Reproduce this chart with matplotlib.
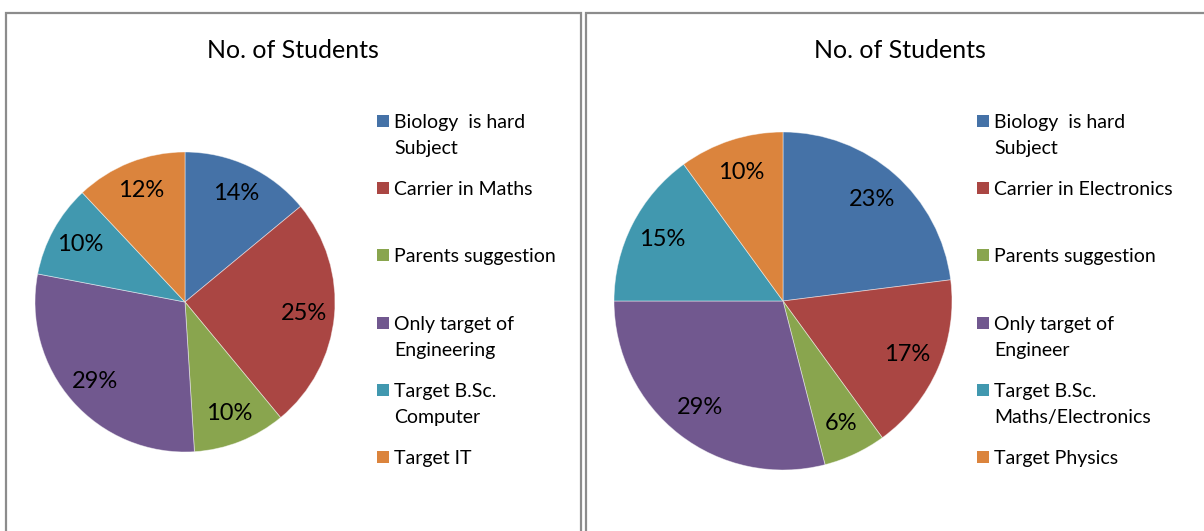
import matplotlib
matplotlib.use("Agg")
import matplotlib.pyplot as plt
from matplotlib.patches import Rectangle

plt.rcParams['font.family'] = ['Lato', 'DejaVu Sans']

# data
title = "No. of Students"
labels_left = ["Biology  is hard\nSubject", "Carrier in Maths", "Parents suggestion",
               "Only target of\nEngineering", "Target B.Sc.\nComputer", "Target IT"]
values_left = [14, 25, 10, 29, 10, 12]
labels_right = ["Biology  is hard\nSubject", "Carrier in Electronics", "Parents suggestion",
                "Only target of\nEngineer", "Target B.Sc.\nMaths/Electronics", "Target Physics"]
values_right = [23, 17, 6, 29, 15, 10]
colors = ["#4572A7", "#AA4643", "#89A54E", "#71588F", "#4198AF", "#DB843D"]

W, H = 1204, 531
fig = plt.figure(figsize=(W / 100, H / 100), dpi=100)


def px_axes(x, y, w, h):
    # x, y = top-left in pixels
    return fig.add_axes([x / W, 1 - (y + h) / H, w / W, h / H])


def panel(x0, x1, cx, cy, r, values, labels, leg_x, title_x):
    # border of the chart area
    fig.patches.append(Rectangle((x0 / W, -0.05), (x1 - x0) / W, 1 - 13 / H + 0.05,
                                 transform=fig.transFigure, fill=False,
                                 edgecolor="#8c8c8c", linewidth=1.6))
    fig.text(title_x / W, 1 - 50 / H, title, ha="center", va="center", fontsize=18)

    ax = px_axes(cx - r, cy - r, 2 * r, 2 * r)
    ax.pie(values, colors=colors, startangle=90, counterclock=False,
           autopct=lambda p: "%d%%" % round(p), pctdistance=0.8,
           wedgeprops=dict(linewidth=0.6, edgecolor="#ffffff80"),
           textprops=dict(fontsize=17, color="black"))
    ax.set_xlim(-1, 1)
    ax.set_ylim(-1, 1)
    ax.set_aspect("equal")
    ax.axis("off")

    # legend, one slot per entry
    for i, (lab, c) in enumerate(zip(labels, colors)):
        y = 121 + i * 67.2
        fig.patches.append(Rectangle(((leg_x - 17) / W, 1 - (y + 6) / H), 12 / W, 12 / H,
                                     transform=fig.transFigure, facecolor=c, edgecolor="none"))
        fig.text(leg_x / W, 1 - (y - 7) / H, lab, ha="left", va="top",
                 fontsize=14, linespacing=1.65)


panel(6, 581, 185, 302, 150, values_left, labels_left, 394, 293)
panel(586, 1230, 783, 301, 169, values_right, labels_right, 994, 900)

fig.savefig("out.png", dpi=100, facecolor="white")
